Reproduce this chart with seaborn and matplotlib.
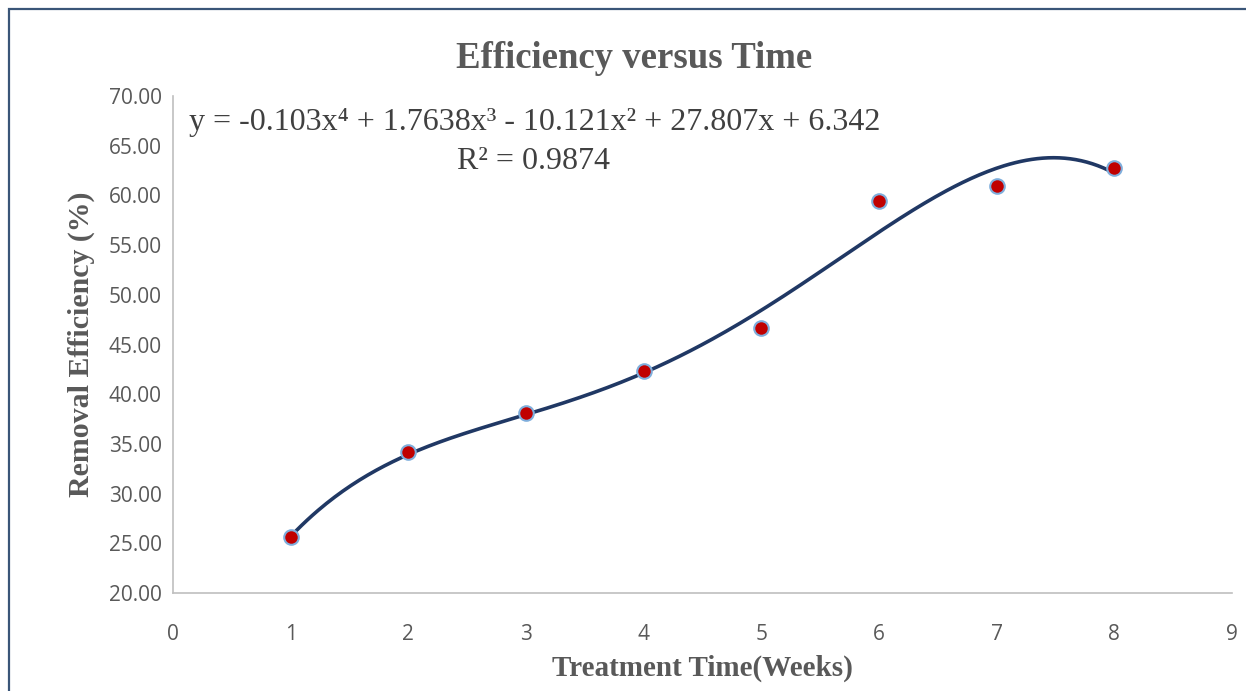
import numpy as np
import pandas as pd
import matplotlib
matplotlib.use("Agg")
import matplotlib.pyplot as plt
import seaborn as sns
from matplotlib.patches import Rectangle
from matplotlib.ticker import FormatStrFormatter

# Data
weeks = [1, 2, 3, 4, 5, 6, 7, 8]
efficiency = [25.65, 34.15, 38.15, 42.3, 46.7, 59.4, 60.9, 62.75]
# Polynomial trendline coefficients printed on the chart (x^4 .. x^0)
trend_coefs = [-0.103, 1.7638, -10.121, 27.807, 6.342]
r_squared = 0.9874
x_ticks = [0, 1, 2, 3, 4, 5, 6, 7, 8, 9]
y_ticks = [20, 25, 30, 35, 40, 45, 50, 55, 60, 65, 70]

sns.set_theme(style="white")
plt.rcParams['font.family'] = ['Open Sans', 'DejaVu Sans']

fig = plt.figure(figsize=(12.46, 6.91), dpi=100)
ax = fig.add_axes([0.1388, 0.1418, 0.850, 0.7192])

df = pd.DataFrame({"Week": weeks, "Eff": efficiency})
xs = np.linspace(min(weeks), max(weeks), 300)
trend = pd.DataFrame({"Week": xs, "Eff": np.polyval(trend_coefs, xs)})

sns.lineplot(data=trend, x="Week", y="Eff", ax=ax, color="#203864", linewidth=2.6, zorder=2)
sns.scatterplot(data=df, x="Week", y="Eff", ax=ax, color="#C00000", edgecolor="#7FAEDC",
                linewidth=1.5, s=110, zorder=3)

ax.set_xlim(0, 9)
ax.set_ylim(20, 70)
ax.set_xticks(x_ticks)
ax.set_yticks(y_ticks)
ax.yaxis.set_major_formatter(FormatStrFormatter("%.2f"))
ax.tick_params(axis="both", length=0, labelsize=15, labelcolor="#595959")
ax.tick_params(axis="y", pad=8)
ax.tick_params(axis="x", pad=22)
for s in ["top", "right"]:
    ax.spines[s].set_visible(False)
for s in ["left", "bottom"]:
    ax.spines[s].set_color("#BFBFBF")
    ax.spines[s].set_linewidth(1.2)

serif = ['Liberation Serif', 'DejaVu Serif']
ax.set_xlabel("Treatment Time(Weeks)", fontsize=21, fontweight="bold", family=serif,
              color="#595959", labelpad=7)
ax.set_ylabel("Removal Efficiency (%)", fontsize=21.5, fontweight="bold", family=serif,
              color="#595959", labelpad=10)

fig.text(0.509, 0.916, "Efficiency versus Time", ha="center", va="center", fontsize=26.5,
         fontweight="bold", family=serif, color="#595959")

c = trend_coefs
eq = (f"y = {c[0]:g}x\u2074 + {c[1]:g}x\u00b3 - {abs(c[2]):g}x\u00b2 + {c[3]:g}x + {c[4]:g}")
fig.text(0.429, 0.823, eq, ha="center", va="center", fontsize=23, family=serif, color="#404040")
fig.text(0.428, 0.767, f"R\u00b2 = {r_squared:g}", ha="center", va="center", fontsize=23,
         family=serif, color="#404040")

# figure border
fig.patches.append(Rectangle((0.0075, -0.01), 1.0, 0.997, transform=fig.transFigure,
                             fill=False, edgecolor="#3A5578", linewidth=1.6))

fig.savefig("out.png", dpi=100)
